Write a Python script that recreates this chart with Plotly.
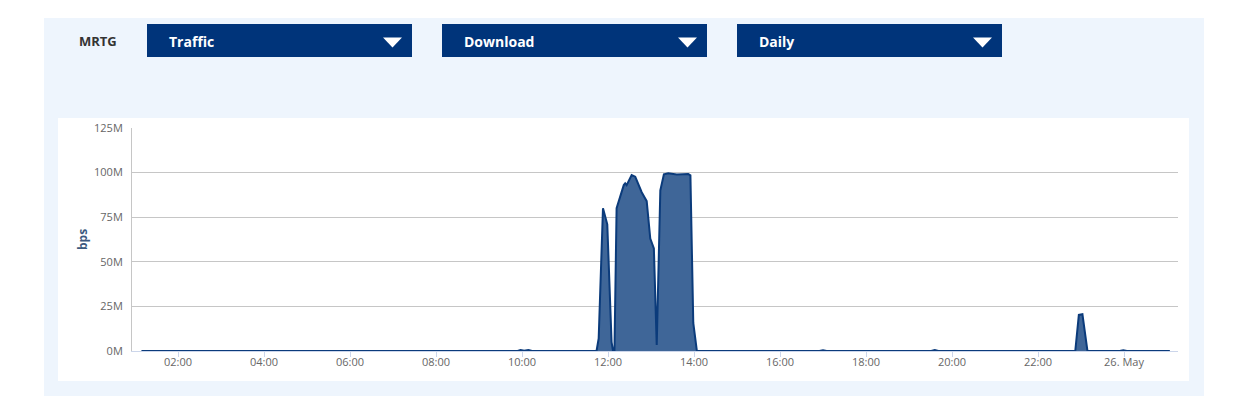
import plotly.graph_objects as go

W, H = 1248, 413

# ---------------- data ----------------
times = [
    "2024-05-25 01:09", "2024-05-25 09:54", "2024-05-25 09:58", "2024-05-25 10:03",
    "2024-05-25 10:09", "2024-05-25 10:14", "2024-05-25 11:44", "2024-05-25 11:47",
    "2024-05-25 11:53", "2024-05-25 11:59", "2024-05-25 12:05", "2024-05-25 12:07",
    "2024-05-25 12:09", "2024-05-25 12:12", "2024-05-25 12:22", "2024-05-25 12:24",
    "2024-05-25 12:26", "2024-05-25 12:33", "2024-05-25 12:38", "2024-05-25 12:47",
    "2024-05-25 12:54", "2024-05-25 12:59", "2024-05-25 13:04", "2024-05-25 13:08",
    "2024-05-25 13:13", "2024-05-25 13:18", "2024-05-25 13:24", "2024-05-25 13:36",
    "2024-05-25 13:52", "2024-05-25 13:55", "2024-05-25 13:59", "2024-05-25 14:04",
    "2024-05-25 16:55", "2024-05-25 17:00", "2024-05-25 17:05", "2024-05-25 19:31",
    "2024-05-25 19:36", "2024-05-25 19:41", "2024-05-25 22:52", "2024-05-25 22:57",
    "2024-05-25 23:02", "2024-05-25 23:09", "2024-05-25 23:54", "2024-05-25 23:59",
    "2024-05-26 00:04", "2024-05-26 01:04",
]
traffic_mbps = [
    0, 0, 0.6, 0.1,
    0.6, 0, 0, 7,
    80, 71, 5, 0,
    0, 80, 93, 94,
    93, 98.6, 97.7, 89,
    84, 63, 57.5, 3.4,
    90, 99, 99.6, 98.9,
    99.2, 98.5, 15.7, 0,
    0, 0.4, 0, 0,
    0.5, 0, 0, 20.2,
    20.6, 0, 0, 0.4,
    0, 0,
]

y_tick_vals = [0, 25, 50, 75, 100, 125]
y_tick_text = ["0M", "25M", "50M", "75M", "100M", "125M"]

x_tick_vals = [
    "2024-05-25 02:00", "2024-05-25 04:00", "2024-05-25 06:00", "2024-05-25 08:00",
    "2024-05-25 10:00", "2024-05-25 12:00", "2024-05-25 14:00", "2024-05-25 16:00",
    "2024-05-25 18:00", "2024-05-25 20:00", "2024-05-25 22:00", "2024-05-26 00:00",
]
x_tick_text = ["02:00", "04:00", "06:00", "08:00", "10:00", "12:00", "14:00",
               "16:00", "18:00", "20:00", "22:00", "26. May"]

menu_labels = ["Traffic", "Download", "Daily"]
title_label = "MRTG"
y_title = "bps"

# ---------------- helpers ----------------
def px(x):
    return x / W


def py(y):
    return 1 - y / H


FONT = "Open Sans, Arial, sans-serif"
NAVY = "#00347a"

fig = go.Figure()
fig.add_trace(go.Scatter(
    x=times, y=traffic_mbps, mode="lines",
    line=dict(color="#0b3b7b", width=2),
    fill="tozeroy", fillcolor="#3f6698",
    hoverinfo="skip", showlegend=False,
))

shapes = [
    dict(type="rect", xref="paper", yref="paper", x0=px(44), x1=px(1204),
         y0=py(396), y1=py(18), fillcolor="#eef5fd", line=dict(width=0), layer="below"),
    dict(type="rect", xref="paper", yref="paper", x0=px(58), x1=px(1189),
         y0=py(381), y1=py(118), fillcolor="#ffffff", line=dict(width=0), layer="below"),
]
annotations = [
    dict(text=f"<b>{title_label}</b>", x=px(77), y=py(41), xref="paper", yref="paper",
         xanchor="left", yanchor="middle", showarrow=False,
         font=dict(family=FONT, size=13, color="#333333")),
    dict(text=f"<b>{y_title}</b>", x=px(83), y=py(240), xref="paper", yref="paper",
         xanchor="center", yanchor="middle", showarrow=False, textangle=-90,
         font=dict(family=FONT, size=12, color="#3d5a80")),
]

box_left = [147, 442, 737]
for bx, label in zip(box_left, menu_labels):
    shapes.append(dict(type="rect", xref="paper", yref="paper", x0=px(bx), x1=px(bx + 265),
                       y0=py(57), y1=py(24), fillcolor=NAVY, line=dict(width=0), layer="below"))
    tx0, tx1, ty0, ty1 = bx + 236, bx + 255, 37.5, 47.5
    path = (f"M {px(tx0)},{py(ty0)} L {px(tx1)},{py(ty0)} "
            f"L {px((tx0 + tx1) / 2)},{py(ty1)} Z")
    shapes.append(dict(type="path", xref="paper", yref="paper", path=path,
                       fillcolor="#ffffff", line=dict(width=0), layer="above"))
    annotations.append(dict(text=f"<b>{label}</b>", x=px(bx + 20), y=py(41),
                            xref="paper", yref="paper", xanchor="left", yanchor="middle",
                            showarrow=False,
                            font=dict(family=FONT, size=14, color="#ffffff")))

fig.update_layout(
    width=W, height=H, autosize=False,
    margin=dict(l=0, r=0, t=0, b=0, pad=0, autoexpand=False),
    paper_bgcolor="#ffffff",
    plot_bgcolor="rgba(0,0,0,0)",
    font=dict(family=FONT, size=11, color="#666666"),
    shapes=shapes,
    annotations=annotations,
    xaxis=dict(
        domain=[px(132), px(1178)],
        type="date", automargin=False,
        range=["2024-05-25 00:55:49", "2024-05-26 01:15:21"],
        tickmode="array", tickvals=x_tick_vals, ticktext=x_tick_text,
        showgrid=False, zeroline=False,
        showline=True, linecolor="#ccd6eb", linewidth=1,
        ticks="outside", ticklen=5, tickcolor="#ccd6eb",
        ticklabelstandoff=-4,
        tickfont=dict(family=FONT, size=11, color="#666666"),
    ),
    yaxis=dict(
        domain=[py(351), py(128)],
        range=[0, 125], automargin=False,
        tickmode="array", tickvals=y_tick_vals, ticktext=y_tick_text,
        showgrid=True, gridcolor="#c6c6c6", gridwidth=1,
        zeroline=False,
        showline=True, linecolor="#c6c6c6", linewidth=1,
        ticks="", ticklabelstandoff=6,
        tickfont=dict(family=FONT, size=11, color="#666666"),
    ),
)

fig.write_html("out.html")
